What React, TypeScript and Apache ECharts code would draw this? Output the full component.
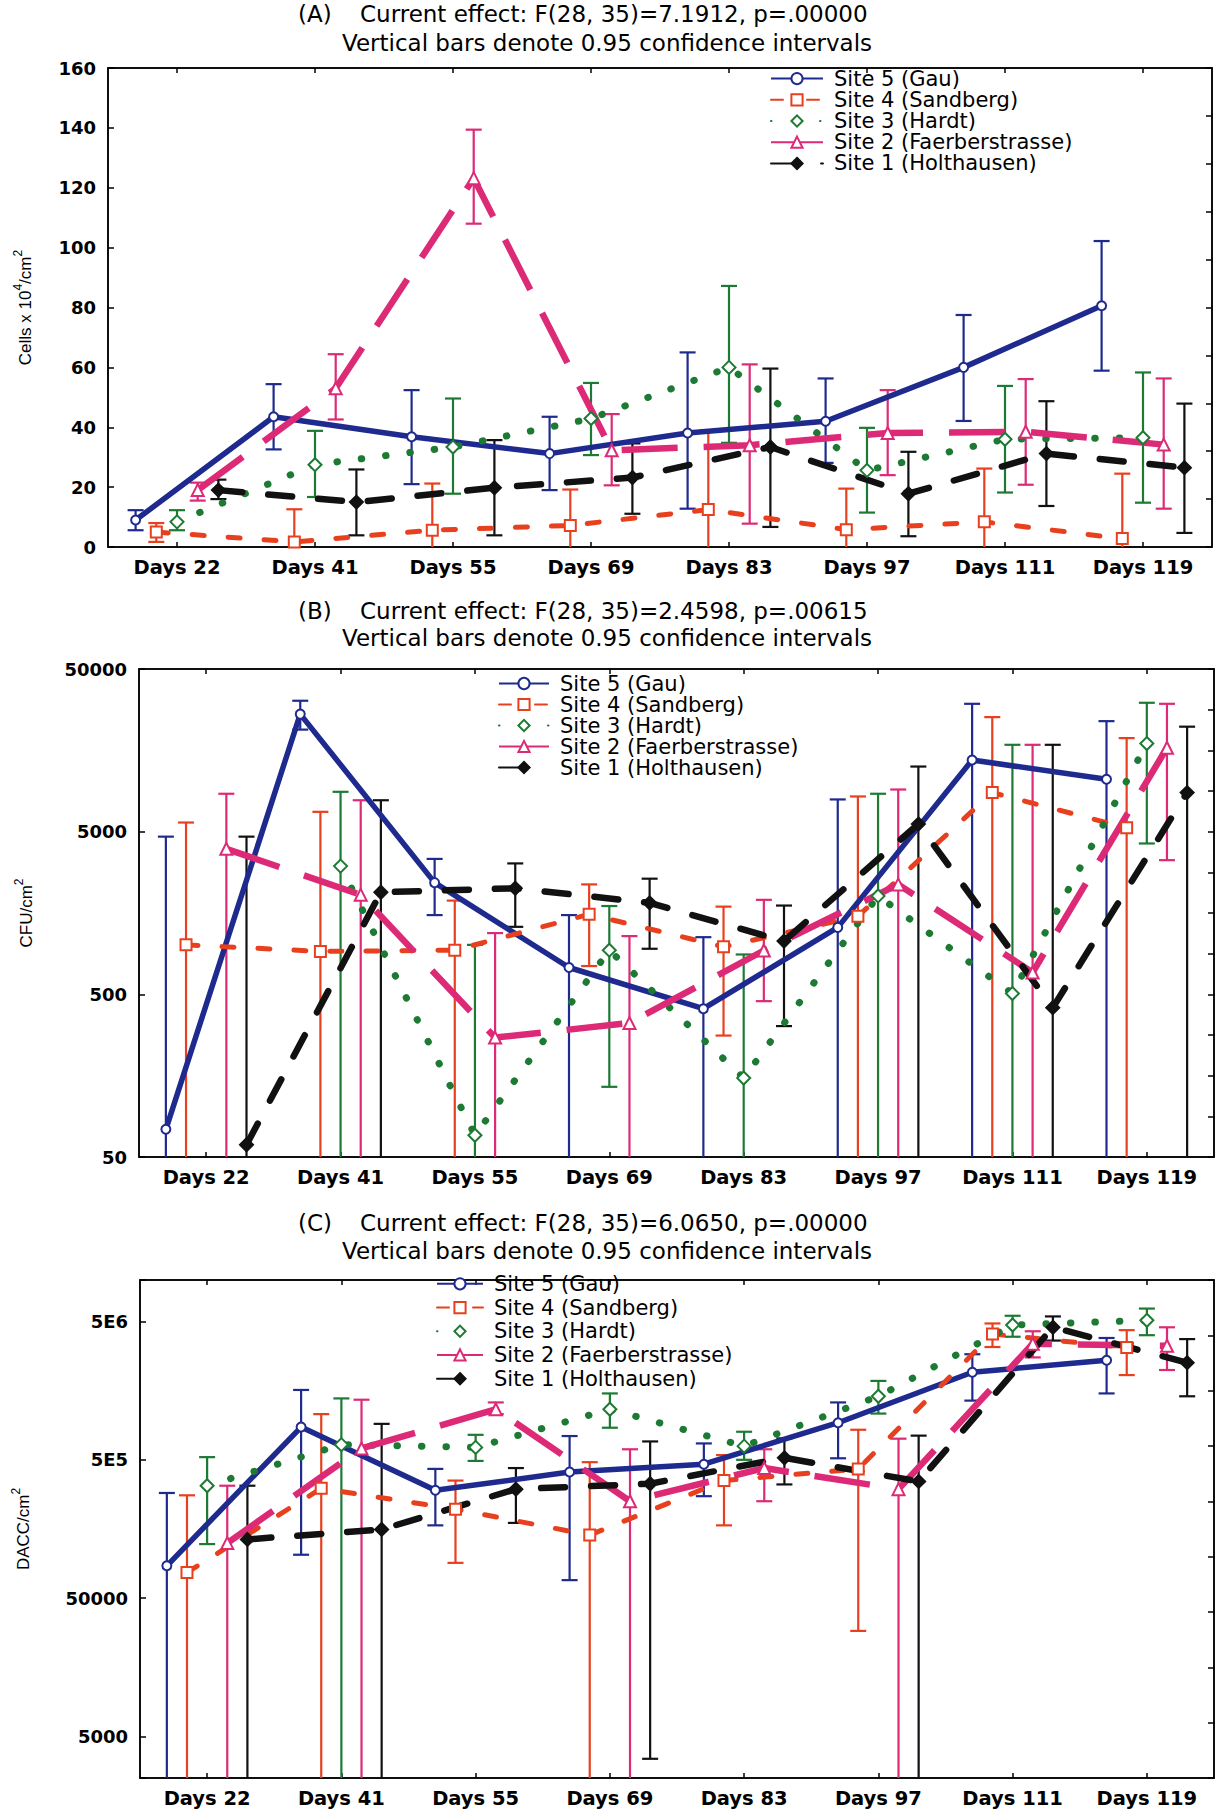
import React, { useEffect, useRef } from 'react';
import * as echarts from 'echarts';

// ---------- shared categories / names ----------
const categories = ['Days 22', 'Days 41', 'Days 55', 'Days 69', 'Days 83', 'Days 97', 'Days 111', 'Days 119'];
const siteNames = ['Site 5 (Gau)', 'Site 4 (Sandberg)', 'Site 3 (Hardt)', 'Site 2 (Faerberstrasse)', 'Site 1 (Holthausen)'];
const panelLetters = ['(A)', '(B)', '(C)'];
const panelEffects = [
  'Current effect: F(28, 35)=7.1912, p=.00000',
  'Current effect: F(28, 35)=2.4598, p=.00615',
  'Current effect: F(28, 35)=6.0650, p=.00000',
];
const subtitleText = 'Vertical bars denote 0.95 confidence intervals';
const yNames = ['Cells x 10{s|4}/cm{s|2}', 'CFU/cm{s|2}', 'DACC/cm{s|2}'];

// ---------- Panel A : Cells x 10^4 / cm^2 (linear) ----------
const aGauMean = [9, 43.5, 36.8, 31.2, 38.1, 42, 60, 80.6];
const aGauLo = [5.6, 32.6, 21, 19, 12.8, 28.1, 42.1, 58.9];
const aGauHi = [12.3, 54.4, 52.4, 43.5, 65, 56.3, 77.5, 102.2];
const aSandMean = [5, 1.7, 5.6, 7.2, 12.5, 5.8, 8.4, 2.8];
const aSandLo = [1.7, -9, -10, -5, -14, -8, -9, -19];
const aSandHi = [8, 12.6, 21.2, 19.2, 39, 19.5, 26.2, 24.5];
const aHardtMean = [8.4, 27.5, 33.4, 42.9, 60, 25.6, 36, 36.5];
const aHardtLo = [5.6, 16.7, 17.8, 30.7, 34.8, 11.5, 18.2, 14.8];
const aHardtHi = [12.3, 38.8, 49.6, 54.8, 87.2, 39.8, 53.8, 58.3];
const aFaerMean = [19, 53, 123.2, 32.3, 34, 38.1, 38.5, 34.2];
const aFaerLo = [15.5, 42.6, 108, 20.6, 7.8, 24, 20.8, 12.8];
const aFaerHi = [21.5, 64.4, 139.4, 44.4, 61, 52.4, 56.1, 56.3];
const aHoltMean = [19, 15, 19.8, 23.2, 33.4, 17.8, 31.2, 26.5];
const aHoltLo = [16, 3.9, 3.9, 11.1, 6.7, 3.6, 13.7, 4.7];
const aHoltHi = [22.5, 25.9, 35.7, 34.6, 59.6, 31.8, 48.7, 47.9];

// ---------- Panel B : CFU / cm^2 (log) ----------
const bGauMean = [74, 26400, 2430, 731, 408, 1290, 13780, 10500];
const bGauLo = [10, 21200, 1535, 10, 10, 10, 10, 10];
const bGauHi = [4660, 31900, 3400, 1535, 1123, 7890, 30550, 23900];
const bSandMean = [1007, 918, 934, 1552, 979, 1510, 8690, 5280];
const bSandLo = [10, 10, 10, 746, 279, 10, 10, 10];
const bSandHi = [5690, 6620, 1885, 2370, 1730, 8230, 25300, 18800];
const bHardtMean = [null, 3070, 68, 934, 153, 2013, 506, 17400];
const bHardtLo = [null, 10, 10, 135, 10, 10, 10, 4230];
const bHardtHi = [null, 8790, 1007, 1745, 879, 8550, 17100, 31000];
const bFaerMean = [3920, 2045, 271, 333, 930, 2370, 681, 16400];
const bFaerLo = [10, 10, 10, 10, 454, 10, 10, 3340];
const bFaerHi = [8550, 7800, 1190, 1140, 1905, 9080, 17100, 30550];
const bHoltMean = [59.5, 2120, 2245, 1825, 1062, 5570, 414, 8690];
const bHoltLo = [10, 10, 1300, 953, 319, 10, 10, 10];
const bHoltHi = [4660, 7800, 3190, 2570, 1757, 12570, 17100, 22100];

// ---------- Panel C : DACC / cm^2 (log) ----------
const cGauMean = [85700, 863000, 301000, 408000, 465000, 927000, 2150000, 2620000];
const cGauLo = [1000, 103000, 168000, 67500, 273000, 513000, 1340000, 1510000];
const cGauHi = [288000, 1600000, 430000, 743000, 657000, 1300000, 2900000, 3800000];
const cSandMean = [76700, 311000, 220000, 143000, 354000, 430000, 4060000, 3240000];
const cSandLo = [1000, 1000, 90000, 1000, 168000, 29000, 3270000, 2050000];
const cSandHi = [277000, 1070000, 354000, 481000, 541000, 825000, 4840000, 4330000];
const cHardtMean = [325000, 644000, 615000, 1160000, 628000, 1440000, 4720000, 5100000];
const cHardtLo = [123000, 1000, 491000, 853000, 500000, 1080000, 3880000, 3980000];
const cHardtHi = [523000, 1390000, 758000, 1510000, 798000, 1860000, 5500000, 6200000];
const cFaerMean = [125000, 604000, 1160000, 251000, 436000, 307000, 3450000, 3340000];
const cFaerLo = [1000, 1000, 1070000, 1000, 251000, 1000, 2750000, 2230000];
const cFaerHi = [325000, 1360000, 1300000, 596000, 596000, 711000, 4250000, 4540000];
const cHoltMean = [133000, 157000, 307000, 336000, 517000, 349000, 4540000, 2520000];
const cHoltLo = [1000, 1000, 175000, 3450, 332000, 1000, 3640000, 1440000];
const cHoltHi = [325000, 910000, 436000, 679000, 714000, 748000, 5440000, 3730000];

// ---------- styles / layout ----------
const siteStyles = [
  { color: '#1f2a8e', symbol: 'emptyCircle', symbolSize: 9, width: 5.5, dash: 'solid' as any, cap: 'butt' },
  { color: '#e8401e', symbol: 'emptyRect', symbolSize: 11, width: 5, dash: [12, 24], cap: 'round' },
  { color: '#1d7a33', symbol: 'emptyDiamond', symbolSize: 13, width: 7, dash: [0.5, 24], cap: 'round' },
  { color: '#dd2a76', symbol: 'emptyTriangle', symbolSize: 12, width: 6.5, dash: [56, 26], cap: 'butt' },
  { color: '#111111', symbol: 'diamond', symbolSize: 13, width: 6.5, dash: [24, 26], cap: 'round' },
];
const siteOffsets = [-0.3, -0.15, 0, 0.15, 0.3];

const panels = [
  {
    mean: [aGauMean, aSandMean, aHardtMean, aFaerMean, aHoltMean],
    lo: [aGauLo, aSandLo, aHardtLo, aFaerLo, aHoltLo],
    hi: [aGauHi, aSandHi, aHardtHi, aFaerHi, aHoltHi],
    log: false,
    grid: { left: 108, top: 68, width: 1104, height: 479 },
    yMin: 0, yMax: 160, yInterval: 20 as number | undefined, rMin: 0, rMax: 160, rInterval: 16,
    titleTop: 2, subTop: 31, nameGap: 70,
    legend: { left: 770, top: 68, row: 21.2, iconW: 52 },
  },
  {
    mean: [bGauMean, bSandMean, bHardtMean, bFaerMean, bHoltMean],
    lo: [bGauLo, bSandLo, bHardtLo, bFaerLo, bHoltLo],
    hi: [bGauHi, bSandHi, bHardtHi, bFaerHi, bHoltHi],
    log: true,
    grid: { left: 139, top: 669, width: 1075, height: 488 },
    yMin: 1, yMax: 4, yInterval: 1 as number | undefined, rMin: 1, rMax: 4, rInterval: 0.25,
    titleTop: 599, subTop: 626, nameGap: 100,
    legend: { left: 498, top: 673, row: 20.5, iconW: 50 },
  },
  {
    mean: [cGauMean, cSandMean, cHardtMean, cFaerMean, cHoltMean],
    lo: [cGauLo, cSandLo, cHardtLo, cFaerLo, cHoltLo],
    hi: [cGauHi, cSandHi, cHardtHi, cFaerHi, cHoltHi],
    log: true,
    grid: { left: 140, top: 1280, width: 1074, height: 498 },
    yMin: 2.7, yMax: 6.3, yInterval: undefined as number | undefined, rMin: 2.7, rMax: 6.3, rInterval: 0.4,
    titleTop: 1211, subTop: 1239, nameGap: 104,
    legend: { left: 436, top: 1272, row: 23.7, iconW: 46 },
  },
];

const FONT = 'DejaVu Sans';

function makeCI(color: string) {
  return (params: any, api: any) => {
    const x = api.value(0);
    const lo = api.value(1);
    const hi = api.value(2);
    const a = api.coord([x, hi]);
    const b = api.coord([x, lo]);
    const cs = params.coordSys;
    const top = cs.y;
    const bottom = cs.y + cs.height;
    const half = 8;
    const st = { stroke: color, lineWidth: 2.2 };
    const y1 = Math.max(a[1], top);
    const y2 = Math.min(b[1], bottom);
    const children: any[] = [{ type: 'line', shape: { x1: a[0], y1, x2: a[0], y2 }, style: st }];
    if (a[1] >= top - 0.5) children.push({ type: 'line', shape: { x1: a[0] - half, y1: a[1], x2: a[0] + half, y2: a[1] }, style: st });
    if (b[1] <= bottom + 0.5) children.push({ type: 'line', shape: { x1: b[0] - half, y1: b[1], x2: b[0] + half, y2: b[1] }, style: st });
    return { type: 'group', children };
  };
}

function logLabel(panelIndex: number) {
  return (v: number) => {
    const k = Math.round(v);
    if (Math.abs(v - k) > 1e-6) return '';
    if (panelIndex === 2 && k >= 5) return '5E' + k;
    return String(Math.round(5 * Math.pow(10, k)));
  };
}

function buildOption() {
  const grid: any[] = [];
  const xAxis: any[] = [];
  const yAxis: any[] = [];
  const series: any[] = [];
  const title: any[] = [];
  const legend: any[] = [];
  const blackLine = { show: true, onZero: false, lineStyle: { color: '#000', width: 1.5 } };
  const titleStyle = { fontFamily: FONT, fontSize: 23, fontWeight: 'normal', color: '#000' };

  panels.forEach((p, pi) => {
    const tf = (v: number) => (p.log ? Math.log10(v / 5) : v);
    grid.push({ ...p.grid, show: true, borderColor: '#000', borderWidth: 1.5, backgroundColor: 'transparent', containLabel: false });

    xAxis.push({
      type: 'category', gridIndex: pi, data: categories, position: 'bottom', boundaryGap: true,
      axisLine: blackLine,
      axisTick: { show: true, inside: true, alignWithLabel: true, length: 5, lineStyle: { color: '#000', width: 1.5 } },
      axisLabel: { color: '#000', fontFamily: FONT, fontSize: 19.5, fontWeight: 'bold', margin: 10 },
      splitLine: { show: false },
    });
    xAxis.push({ type: 'value', gridIndex: pi, min: -0.5, max: 7.5, position: 'bottom', show: false, splitLine: { show: false } });
    xAxis.push({
      type: 'category', gridIndex: pi, data: categories, position: 'top', boundaryGap: true,
      axisLine: blackLine,
      axisTick: { show: true, inside: true, alignWithLabel: true, length: 5, lineStyle: { color: '#000', width: 1.5 } },
      axisLabel: { show: false }, splitLine: { show: false },
    });

    const yLeft: any = {
      type: 'value', gridIndex: pi, position: 'left', min: p.yMin, max: p.yMax,
      axisLine: blackLine,
      axisTick: { show: true, inside: true, length: 6, lineStyle: { color: '#000', width: 1.5 } },
      axisLabel: { color: '#000', fontFamily: FONT, fontSize: 18, fontWeight: 'bold', margin: 12 },
      splitLine: { show: false },
      name: yNames[pi], nameLocation: 'middle', nameRotate: 90, nameGap: p.nameGap,
      nameTextStyle: {
        color: '#000', fontFamily: 'Liberation Sans', fontSize: 17, lineHeight: 26,
        rich: { s: { fontSize: 12, lineHeight: 13, verticalAlign: 'top', fontFamily: 'Liberation Sans', color: '#000' } },
      },
    };
    if (p.yInterval !== undefined) yLeft.interval = p.yInterval;
    else yLeft.splitNumber = 4;
    if (p.log) yLeft.axisLabel.formatter = logLabel(pi);
    yAxis.push(yLeft);
    yAxis.push({
      type: 'value', gridIndex: pi, position: 'right', min: p.rMin, max: p.rMax, interval: p.rInterval,
      axisLine: blackLine,
      axisTick: { show: true, inside: true, length: 6, lineStyle: { color: '#000', width: 1.5 } },
      axisLabel: { show: false }, splitLine: { show: false },
    });

    siteNames.forEach((name, si) => {
      const st = siteStyles[si];
      const ciData: any[] = [];
      categories.forEach((_, ci) => {
        const m = p.mean[si][ci];
        if (m === null || m === undefined) return;
        ciData.push([ci + siteOffsets[si], tf(p.lo[si][ci] as number), tf(p.hi[si][ci] as number)]);
      });
      series.push({
        type: 'custom', name: 'ci-' + pi + '-' + si, xAxisIndex: pi * 3 + 1, yAxisIndex: pi * 2,
        z: 2, silent: true, data: ciData, encode: { x: 0, y: [1, 2] }, renderItem: makeCI(st.color),
      });
      series.push({
        type: 'line', name, xAxisIndex: pi * 3 + 1, yAxisIndex: pi * 2, z: 3,
        data: categories.map((_, ci) => {
          const m = p.mean[si][ci];
          return [ci + siteOffsets[si], m === null || m === undefined ? '-' : tf(m as number)];
        }),
        symbol: st.symbol, symbolSize: st.symbolSize, showSymbol: true, showAllSymbol: true,
        lineStyle: { color: st.color, width: st.width, type: st.dash, cap: st.cap },
        itemStyle: { color: st.color, borderColor: st.color, borderWidth: 2 },
        emphasis: { disabled: true },
      });
    });

    title.push({ text: panelLetters[pi], left: 298, top: p.titleTop, padding: 0, textStyle: titleStyle });
    title.push({ text: panelEffects[pi], left: 360, top: p.titleTop, padding: 0, textStyle: titleStyle });
    title.push({ text: subtitleText, left: 607, top: p.subTop, padding: 0, textAlign: 'center', textStyle: titleStyle });

    legend.push({
      orient: 'vertical', left: p.legend.left, top: p.legend.top, padding: 0, itemGap: 0,
      itemWidth: p.legend.iconW, itemHeight: 14, selectedMode: false, data: siteNames,
      textStyle: { fontFamily: FONT, fontSize: 21, color: '#000', lineHeight: p.legend.row, padding: [0, 0, 0, 6] },
    });
  });

  return { animation: false, backgroundColor: '#ffffff', title, legend, grid, xAxis, yAxis, series };
}

export default function App() {
  const ref = useRef<HTMLDivElement>(null);
  useEffect(() => {
    if (!ref.current) return;
    const chart = echarts.init(ref.current, undefined, { renderer: 'svg' });
    chart.setOption(buildOption() as any);
    return () => chart.dispose();
  }, []);
  return <div ref={ref} style={{ position: 'absolute', left: 0, top: 0, width: 1220, height: 1812, background: '#fff' }} />;
}
